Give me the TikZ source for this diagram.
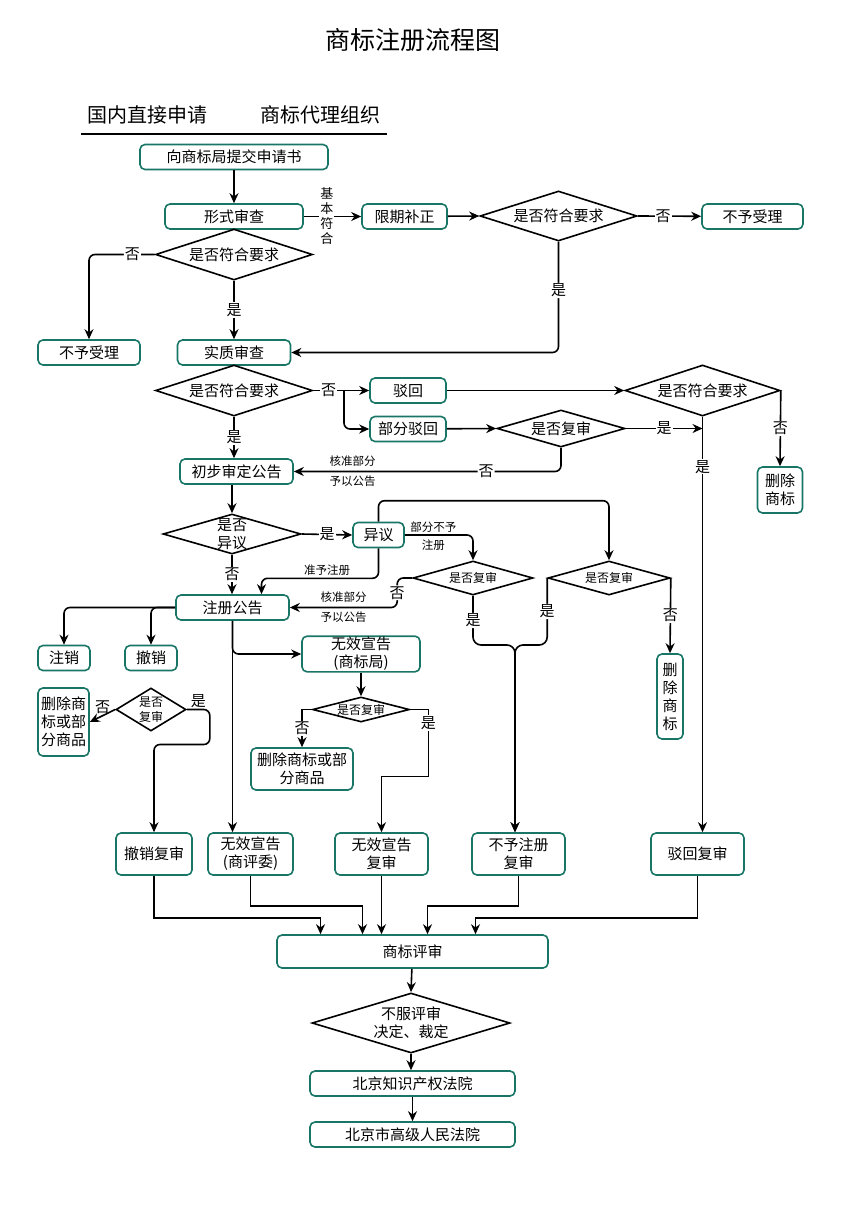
\documentclass[tikz,border=0pt]{standalone}
\usepackage{fontspec}
\setmainfont{Noto Sans CJK SC}
\usetikzlibrary{positioning, shapes.geometric, arrows.meta, calc}
\definecolor{boxteal}{RGB}{25,117,102}

\begin{document}
\begin{tikzpicture}[
	x=1pt, y=-1pt,
	box/.style={draw=boxteal, line width=1.6pt, rounded corners=5pt, minimum height=25pt, inner sep=1pt, align=center, font=\fontsize{15}{18}\selectfont},
	dec/.style={draw, line width=1.6pt, diamond, inner sep=0pt},
	dectext/.style={align=center, inner sep=0pt, font=\fontsize{15}{18}\selectfont},
	smalltext/.style={align=center, inner sep=0pt, font=\fontsize{12}{15}\selectfont},
	flow/.style={draw, line width=1.6pt, -{Stealth[length=10pt,width=9pt]}},
	lbl/.style={fill=white, inner sep=1pt, font=\fontsize{15}{16}\selectfont},
	note/.style={inner sep=4pt, font=\fontsize{11.5}{13}\selectfont}
	]
	\useasboundingbox (0,0) rectangle (843,1223);

	\node[font=\fontsize{25}{28}\selectfont] (title) at (413,40) {商标注册流程图};
	\node[font=\fontsize{20}{22}\selectfont] (direct) at (147,115) {国内直接申请};
	\node[font=\fontsize{20}{22}\selectfont] (agent) at (320,115) {商标代理组织};
	\draw[line width=1.6pt] (81,134) -- (387,134);

	\node[box, minimum width=188pt] (submit) at (234,157) {向商标局提交申请书};
	\node[box, minimum width=138pt] (formal) at (234,216.5) {形式审查};
	\node[box, minimum width=85pt] (fix) at (404.5,216.5) {限期补正};
	\node[dec, minimum width=157pt, minimum height=50pt, label={[dectext]center:是否符合要求}] (fixok) at (558.5,216) {};
	\node[box, minimum width=101pt] (refuseR) at (752.5,216.5) {不予受理};
	\node[dec, minimum width=157pt, minimum height=51pt, label={[dectext]center:是否符合要求}] (formalok) at (234,254.5) {};
	\node[box, minimum width=102pt] (refuseL) at (89,352.5) {不予受理};
	\node[box, minimum width=113pt] (subst) at (234,352.5) {实质审查};
	\node[dec, minimum width=157pt, minimum height=51pt, label={[dectext]center:是否符合要求}] (substok) at (234,390.5) {};
	\node[box, minimum width=76pt] (reject) at (408,390.5) {驳回};
	\node[box, minimum width=76pt] (partrej) at (408,429) {部分驳回};
	\node[dec, minimum width=128pt, minimum height=37pt, label={[dectext]center:是否复审}] (partrev) at (561,428.5) {};
	\node[dec, minimum width=155pt, minimum height=51pt, label={[dectext]center:是否符合要求}] (rejok) at (702.5,390.5) {};
	\node[box, minimum width=45pt, minimum height=46pt] (delR) at (780,490) {删除\\商标};
	\node[box, minimum width=113pt] (prelim) at (236.5,471.5) {初步审定公告};
	\node[dec, minimum width=138pt, minimum height=40pt, label={[dectext]center:是否\\异议}] (oppq) at (232,534) {};
	\node[box, minimum width=51pt] (opp) at (378.5,535) {异议};
	\node[dec, minimum width=120pt, minimum height=34pt, label={[smalltext]center:是否复审}] (opprev1) at (473,578) {};
	\node[dec, minimum width=122pt, minimum height=34pt, label={[smalltext]center:是否复审}] (opprev2) at (609,578) {};
	\node[box, minimum width=113pt] (regann) at (232.5,607.5) {注册公告};
	\node[box, minimum width=26pt, minimum height=85pt] (delV) at (670,696.5) {删\\除\\商\\标};
	\node[box, minimum width=52pt] (cancel) at (64,658) {注销};
	\node[box, minimum width=52pt] (revoke) at (151,658) {撤销};
	\node[box, minimum width=118pt, minimum height=34pt] (invTMO) at (361,654) {无效宣告\\(商标局)};
	\node[dec, minimum width=97pt, minimum height=25pt, label={[smalltext]center:是否复审}] (invrev) at (361,709.5) {};
	\node[box, minimum width=102pt, minimum height=42pt] (invdel) at (302,769) {删除商标或部\\分商品};
	\node[dec, minimum width=70pt, minimum height=43pt, label={[smalltext]center:是否\\复审}] (revrev) at (151,709.5) {};
	\node[box, minimum width=51pt, minimum height=68pt] (revdel) at (63.5,722) {删除商\\标或部\\分商品};

	\node[box, minimum width=76pt, minimum height=42pt] (revokerev) at (154,854) {撤销复审};
	\node[box, minimum width=85pt, minimum height=42pt] (invTRAB) at (250.5,854) {无效宣告\\(商评委)};
	\node[box, minimum width=93pt, minimum height=42pt] (invrevbox) at (381.5,854) {无效宣告\\复审};
	\node[box, minimum width=93pt, minimum height=42pt] (refuserev) at (518.5,854) {不予注册\\复审};
	\node[box, minimum width=93pt, minimum height=42pt] (rejrev) at (697.5,854) {驳回复审};
	\node[box, minimum width=271pt, minimum height=33pt] (tmrev) at (412.5,951.5) {商标评审};
	\node[dec, minimum width=198pt, minimum height=60pt, label={[dectext]center:不服评审\\决定、裁定}] (notaccept) at (411,1023) {};
	\node[box, minimum width=205pt] (ipcourt) at (412.5,1083.5) {北京知识产权法院};
	\node[box, minimum width=205pt] (highcourt) at (412.5,1134.5) {北京市高级人民法院};

	\coordinate (split) at (344,390.5);
	\coordinate (merge) at (515,645);

	\draw[flow] (submit) -- (formal);
	\draw[flow] (formal) -- node[lbl, pos=0.4, align=center, font=\fontsize{13}{15}\selectfont] {基\\本\\符\\合} (fix);
	\draw[flow] (fix) -- (fixok.west);
	\draw[flow] (fixok.east) -- node[lbl, pos=0.4] {否} (refuseR);
	\draw[flow, rounded corners=6pt] (fixok.south) |- node[lbl, pos=0.22] {是} (subst.east);
	\draw[flow, rounded corners=6pt] (formalok.west) -| node[lbl, pos=0.17] {否} (refuseL.north);
	\draw[flow] (formalok.south) -- node[lbl] {是} (subst.north);
	\draw[flow] (substok.east) -- node[lbl] {否} (split) -- (reject.west);
	\draw[flow, rounded corners=6pt] (split) |- (partrej.west);
	\draw[flow] (substok.south) -- node[lbl] {是} (prelim.north -| substok.south);
	\draw[flow] (reject) -- (rejok.west);
	\draw[flow] (partrej) -- (partrev.west);
	\draw[flow] (partrev.east) -- node[lbl] {是} (partrev.east -| rejok.south);
	\draw[flow, rounded corners=6pt] (partrev.south) |- node[lbl, pos=0.64] {否} node[note, above, pos=0.89] {核准部分} node[note, below, pos=0.89] {予以公告} (prelim.east);
	\draw[flow] (rejok.south) -- node[lbl, pos=0.12] {是} (rejok.south |- rejrev.north);
	\draw[flow] (rejok.east) -- node[lbl] {否} (delR.north);

	\draw[flow] (prelim.south -| oppq.north) -- (oppq.north);
	\draw[flow] (oppq.east) -- node[lbl] {是} (opp.west);
	\draw[flow] (oppq.south) -- node[lbl] {否} (regann.north -| oppq.south);
	\draw[flow, rounded corners=6pt] (opp.south) -- ++(0,30) -| node[note, above, pos=0.22, inner sep=2pt] {准予注册} ([xshift=29pt]regann.north);
	\draw[flow, rounded corners=6pt] (opp.north) -- ++(0,-21) -| (opprev2.north);
	\draw[flow, rounded corners=6pt] (opp.east) -| node[note, above, pos=0.21, inner sep=2pt] {部分不予} node[note, below, pos=0.21] {注册} (opprev1.north);
	\draw[flow, rounded corners=6pt] (opprev1.west) -- ++(-15,0) |- node[lbl, pos=0.25] {否} node[note, above, pos=0.75] {核准部分} node[note, below, pos=0.75] {予以公告} (regann.east);
	\draw[flow, rounded corners=8pt] (opprev1.south) |- node[lbl, pos=0.25] {是} (merge) -- (merge |- refuserev.north);
	\draw[flow, rounded corners=8pt] (opprev2.west) |- node[lbl, pos=0.25] {是} (merge) -- (merge |- refuserev.north);
	\draw[flow] (opprev2.east) -- node[lbl] {否} (delV.north);

	\draw[flow, rounded corners=6pt] (regann.west) -| (cancel.north);
	\draw[flow, rounded corners=6pt] (regann.west) -| (revoke.north);
	\draw[flow, rounded corners=6pt] (regann.south) |- (invTMO.west);
	\draw[flow] (regann.south) -- (regann.south |- invTRAB.north);
	\draw[flow] (invTMO) -- (invrev.north);
	\draw[flow] (invrev.west) -| node[lbl, pos=0.75] {否} (invdel.north);
	\draw[flow] (invrev.east) -- ++(18,0) -- node[lbl, pos=0.2] {是} ++(0,67) -| (invrevbox.north);
	\draw[flow] (revrev.west) -- node[note, above, inner sep=1pt, font=\fontsize{15}{16}\selectfont] {否} (revdel.east);
	\draw[flow, rounded corners=6pt] (revrev.east) -- node[note, above, inner sep=1pt, font=\fontsize{15}{16}\selectfont] {是} ++(23,0) -- ++(0,35) -| (revokerev.north);

	\draw[flow] (revokerev.south) -- ++(0,42) -| ([xshift=-92pt]tmrev.north);
	\draw[flow] (invTRAB.south) -- ++(0,30) -| ([xshift=-50pt]tmrev.north);
	\draw[flow] (invrevbox.south) -- (invrevbox.south |- tmrev.north);
	\draw[flow] (refuserev.south) -- ++(0,30) -| ([xshift=15pt]tmrev.north);
	\draw[flow] (rejrev.south) -- ++(0,42) -| ([xshift=63pt]tmrev.north);
	\draw[flow] (tmrev) -- (notaccept.north);
	\draw[flow] (notaccept.south) -- (ipcourt.north -| notaccept.south);
	\draw[flow] (ipcourt) -- (highcourt);
\end{tikzpicture}
\end{document}
